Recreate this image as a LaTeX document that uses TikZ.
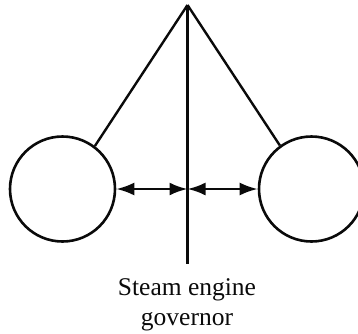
\documentclass[tikz,border=0pt]{standalone}
\usepackage{fontspec}
\setmainfont{Liberation Serif}
\usepackage{xcolor}
\usetikzlibrary{arrows.meta}
\definecolor{ink}{HTML}{0A0A0A}

\begin{document}
\begin{tikzpicture}[x=1pt,y=-1pt,
   ball/.style={circle,draw=ink,line width=2.6pt,inner sep=0pt,minimum size=105pt},
   rod/.style={draw=ink,line width=2.4pt},
   reach/.style={draw=ink,line width=2.5pt,{Latex[length=18pt,width=13pt]}-{Latex[length=18pt,width=13pt]}}]
  \useasboundingbox (0,0) rectangle (358,333);
  \coordinate (apex) at (187.5,5);
  \coordinate (foot) at (187.5,264);
  \coordinate (hub) at (187.5,189);
  \node[ball] (ballL) at (62.5,189) {};
  \node[ball] (ballR) at (311.5,189) {};
  \draw[rod] (apex) -- (ballL.53.5);
  \draw[rod] (apex) -- (ballR.126.5);
  \draw[rod,line width=3pt] (apex) -- (foot);
  \draw[reach] (ballL) -- (hub);
  \draw[reach] (hub) -- (ballR);
  \node[font=\fontsize{25.5pt}{30pt}\selectfont,align=center,text=ink,anchor=north] (name) at (187,275)
   {Steam engine\\governor};
\end{tikzpicture}
\end{document}
